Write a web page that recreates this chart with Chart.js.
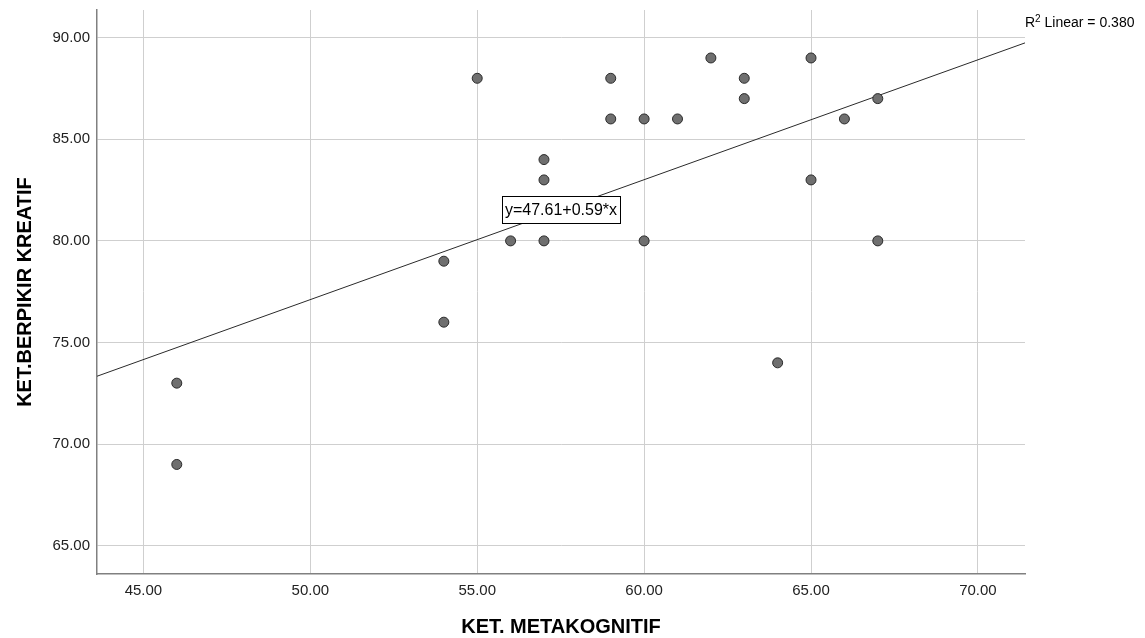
<!DOCTYPE html>
<html>
<head>
<meta charset="utf-8">
<script src="https://cdn.jsdelivr.net/npm/chart.js@4"></script>
<style>
  body { margin: 0; background: #fff; }
  #wrap { width: 1145px; height: 638px; }
</style>
</head>
<body>
<div id="wrap"><canvas id="scatter-chart" width="1145" height="638"></canvas></div>
<script>
// values
const metakognitif = [46, 46, 54, 54, 55, 56, 57, 57, 57, 59, 59, 60, 60, 61, 62, 63, 63, 64, 65, 65, 66, 67, 67];
const berpikirKreatif = [73, 69, 79, 76, 88, 80, 84, 83, 80, 88, 86, 86, 80, 86, 89, 88, 87, 74, 89, 83, 86, 87, 80];
const fitIntercept = 47.61;
const fitSlope = 0.59;
const rSquared = '0.380';
const xTickValues = [45, 50, 55, 60, 65, 70];
const yTickValues = [65, 70, 75, 80, 85, 90];

const xRange = { min: 43.61, max: 71.41 };
const yRange = { min: 63.61, max: 91.36 };

const font = 'Liberation Sans, Arial, sans-serif';

function buildPoints(xs, ys) {
  const pts = [];
  for (let i = 0; i < xs.length; i++) {
    pts.push({ x: xs[i], y: ys[i] });
  }
  return pts;
}

function fitLine() {
  return [xRange.min, xRange.max].map(function(x) {
    return { x: x, y: fitIntercept + fitSlope * x };
  });
}

// equation box on the line + R2 note in the top right corner
const annotations = {
  id: 'annotations',
  afterDatasetsDraw(chart) {
    const ctx = chart.ctx;
    const xs = chart.scales.x;
    const ys = chart.scales.y;
    const midX = (xRange.min + xRange.max) / 2;
    const px = xs.getPixelForValue(midX);
    const py = ys.getPixelForValue(fitIntercept + fitSlope * midX);
    const label = 'y=' + fitIntercept.toFixed(2) + '+' + fitSlope.toFixed(2) + '*x';

    ctx.save();
    ctx.font = '16px ' + font;
    const w = ctx.measureText(label).width + 6;
    const h = 27;
    const bx = Math.round(px - w / 2) + 0.5;
    const by = Math.round(py - h / 2) + 0.5;
    ctx.fillStyle = '#fff';
    ctx.fillRect(bx, by, Math.round(w), h);
    ctx.strokeStyle = '#000';
    ctx.lineWidth = 1;
    ctx.strokeRect(bx, by, Math.round(w), h);
    ctx.fillStyle = '#000';
    ctx.textAlign = 'center';
    ctx.textBaseline = 'middle';
    ctx.fillText(label, px, py + 1);

    // R2 Linear
    let x = chart.chartArea.right;
    const base = 27;
    ctx.textAlign = 'left';
    ctx.textBaseline = 'alphabetic';
    ctx.font = '14px ' + font;
    ctx.fillText('R', x, base);
    x += ctx.measureText('R').width;
    ctx.font = '10px ' + font;
    ctx.fillText('2', x, base - 5);
    x += ctx.measureText('2').width;
    ctx.font = '14px ' + font;
    ctx.fillText(' Linear = ' + rSquared, x, base);
    ctx.restore();
  }
};

const ctx = document.getElementById('scatter-chart').getContext('2d');
const myChart = new Chart(ctx, {
  type: 'scatter',
  data: {
    datasets: [
      {
        label: 'data',
        data: buildPoints(metakognitif, berpikirKreatif),
        pointRadius: 5,
        pointBackgroundColor: '#6f6f6f',
        pointBorderColor: '#2a2a2a',
        pointBorderWidth: 1
      },
      {
        label: 'fit',
        data: fitLine(),
        showLine: true,
        pointRadius: 0,
        borderColor: '#2a2a2a',
        borderWidth: 1
      }
    ]
  },
  options: {
    responsive: false,
    animation: false,
    layout: { padding: { top: 10, right: 120, left: 0, bottom: 0 } },
    plugins: {
      legend: { display: false },
      tooltip: { enabled: false }
    },
    scales: {
      x: {
        type: 'linear',
        min: xRange.min,
        max: xRange.max,
        afterFit: function(scale) {
          scale.height = 64;
          scale.paddingLeft = 0;
          scale.paddingRight = 0;
        },
        afterBuildTicks: function(scale) {
          scale.ticks = xTickValues.map(function(v) { return { value: v }; });
        },
        ticks: {
          padding: 8,
          maxRotation: 0,
          color: '#222',
          font: { family: font, size: 15 },
          callback: function(v) { return Number(v).toFixed(2); }
        },
        grid: { color: '#cfcfcf', lineWidth: 1, drawTicks: false },
        border: { color: '#808080', width: 1.5 },
        title: {
          display: true,
          text: 'KET. METAKOGNITIF',
          color: '#000',
          padding: { top: 0, bottom: 1 },
          font: { family: font, size: 20, weight: 'bold', lineHeight: 1 }
        }
      },
      y: {
        type: 'linear',
        min: yRange.min,
        max: yRange.max,
        afterFit: function(scale) {
          scale.width = 97;
          scale.paddingTop = 0;
          scale.paddingBottom = 0;
        },
        afterBuildTicks: function(scale) {
          scale.ticks = yTickValues.map(function(v) { return { value: v }; });
        },
        ticks: {
          padding: 7,
          color: '#222',
          font: { family: font, size: 15 },
          callback: function(v) { return Number(v).toFixed(2); }
        },
        grid: { color: '#cfcfcf', lineWidth: 1, drawTicks: false },
        border: { color: '#808080', width: 1.5 },
        title: {
          display: true,
          text: 'KET.BERPIKIR KREATIF',
          color: '#000',
          padding: { top: 15, bottom: 0 },
          font: { family: font, size: 20, weight: 'bold', lineHeight: 1 }
        }
      }
    }
  },
  plugins: [annotations]
});
</script>
</body>
</html>
